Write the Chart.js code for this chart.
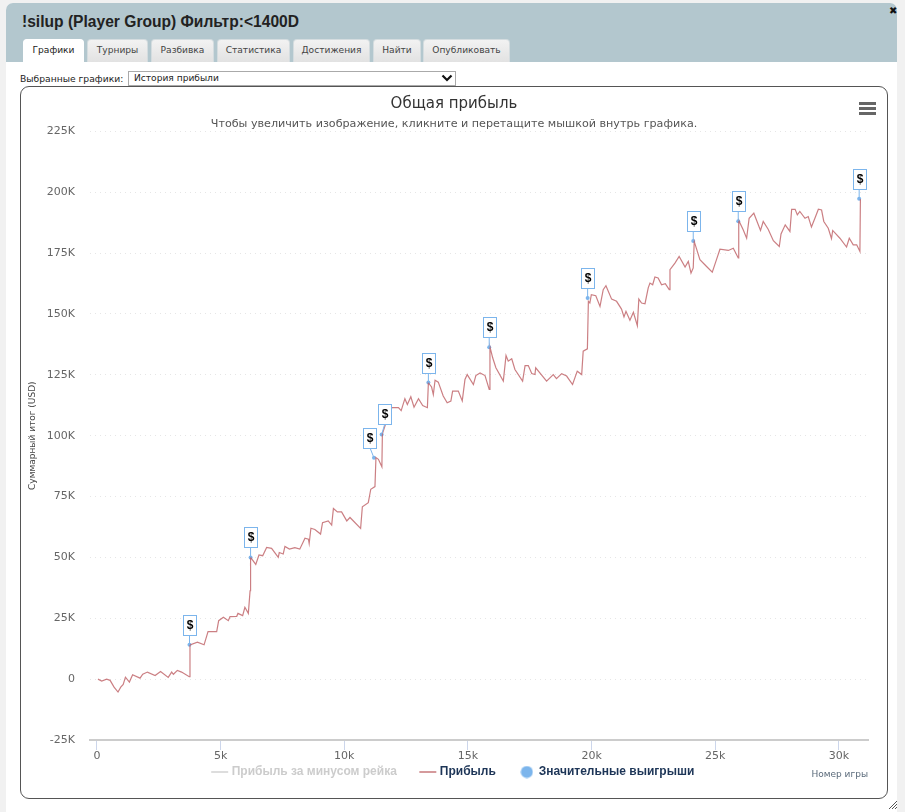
<!DOCTYPE html>
<html><head><meta charset="utf-8">
<script src="https://cdn.jsdelivr.net/npm/chart.js@4"></script>
<style>
html,body{margin:0;padding:0;width:905px;height:812px;overflow:hidden;background:#f1f1f1;font-family:"DejaVu Sans",sans-serif}
#win{position:absolute;left:6px;top:3px;width:891px;height:809px;background:#fff;border-radius:7px 7px 0 0}
#head{position:absolute;left:0;top:0;width:891px;height:59px;background:#b3c7ce;border-radius:7px 7px 0 0}
#ttl{position:absolute;left:22px;top:13px;font:bold 15.6px "Liberation Sans",sans-serif;color:#222}
.tab{position:absolute;top:39px;height:23px;box-sizing:border-box;text-align:center;font-size:9.1px;line-height:21px;color:#444;background:linear-gradient(#f2f2f2,#e2e2e2);border:1px solid #d4dcdf;border-bottom:none;border-radius:4px 4px 0 0}
.tab.on{background:#fff;color:#222;border-color:#fff}
#lab{position:absolute;left:20px;top:73px;font-size:9.2px;color:#222}
#sel{position:absolute;left:128px;top:71px;width:328px;height:15px;box-sizing:border-box;border:1px solid #aaa;background:#fff;font-size:9.1px;line-height:13px;padding-left:5px;color:#222}
#arr{position:absolute;left:441px;top:74px}
#box{position:absolute;left:20px;top:86px;width:868px;height:713px;box-sizing:border-box;border:1px solid #555;border-radius:9px;background:#fff}
canvas{position:absolute;left:21px;top:87px}
.bar{position:absolute;left:859px;width:17px;height:3px;background:#666}
#x{position:absolute;left:889px;top:5px;font-size:10px;font-weight:bold;color:#111}
</style></head><body>
<div id="win"></div><div style="position:absolute;left:6px;top:3px"><div id="head"></div></div>
<div id="ttl">!silup (Player Group) Фильтр:&lt;1400D</div>
<div id="x">✖</div>
<div class="tab on" style="left:23px;width:61px">Графики</div>
<div class="tab" style="left:87px;width:61px">Турниры</div>
<div class="tab" style="left:151px;width:63px">Разбивка</div>
<div class="tab" style="left:217px;width:73px">Статистика</div>
<div class="tab" style="left:293px;width:77px">Достижения</div>
<div class="tab" style="left:373px;width:48px">Найти</div>
<div class="tab" style="left:423px;width:87px">Опубликовать</div>
<div id="lab">Выбранные графики:</div>
<div id="sel">История прибыли</div>
<svg id="arr" width="12" height="8"><path d="M1.5 1.5L6 6L10.5 1.5" fill="none" stroke="#111" stroke-width="2.2"/></svg>
<div id="box"></div>
<canvas id="c" width="866" height="711"></canvas>
<div class="bar" style="top:102px"></div><div class="bar" style="top:107px"></div><div class="bar" style="top:112px"></div>
<svg style="position:absolute;left:888px;top:800px" width="10" height="10"><path d="M1 9L9 1M4 9L9 4M7 9L9 7" stroke="#555" fill="none"/></svg>
<script>
const gameNumbers = [40,190,390,530,690,850,960,1060,1150,1310,1440,1740,1850,2040,2350,2570,2880,3020,3090,3250,3420,3730,3760,4060,4330,4490,4840,4920,5110,5310,5380,5650,5700,5890,5980,6120,6190,6210,6420,6550,6700,6860,7060,7330,7370,7530,7600,7780,8000,8200,8410,8550,8580,8650,8810,9040,9120,9350,9490,9560,9720,9890,10100,10230,10660,10730,10970,11070,11240,11280,11380,11520,11540,11650,11920,12190,12300,12450,12550,12690,12820,13000,13170,13360,13400,13530,13600,13670,13800,14000,14160,14310,14380,14610,14770,14880,14970,15220,15320,15490,15690,15860,15890,16000,16130,16430,16540,16630,16770,16900,17210,17310,17440,17580,17710,17740,18180,18450,18580,18790,18990,19230,19420,19600,19660,19830,19870,19930,19990,20170,20340,20470,20580,20810,21010,21210,21310,21390,21550,21690,21850,21910,22020,22160,22290,22360,22470,22560,22690,22830,22980,23140,23170,23370,23540,23780,23910,24020,24110,24150,24380,24650,24880,25050,25190,25530,25730,25930,25950,26130,26270,26370,26560,26830,26940,27140,27350,27590,27660,27830,28020,28090,28230,28320,28420,28630,28760,28890,29030,29170,29300,29390,29570,29700,29750,30040,30310,30420,30580,30720,30850,30870];
const profitUsd = [0,-800,0,-500,-3300,-5300,-3300,-2200,800,-1200,1800,400,2000,2900,1500,3100,700,2900,2000,3600,2900,1000,14100,15200,14100,19500,19500,24000,25400,24000,25700,25800,27000,26100,29500,27000,36300,50000,47100,51000,50700,54100,53700,50000,52000,51400,54500,53400,54000,53400,57900,57500,55700,62000,61500,59600,64300,65000,63300,70100,68700,68700,65000,66400,61900,70800,72500,78000,79100,91000,90300,87200,100800,104200,111500,111500,110300,115200,112800,116000,111700,115200,112400,111500,121700,120000,116900,122800,122000,116300,113500,114200,118300,118300,114300,123100,125100,121000,124700,125800,124700,119000,136500,132000,127900,122400,132900,130600,131600,127200,122400,128800,128800,125500,125100,127900,122400,125100,123400,125500,124500,121000,126500,125100,134700,135700,155200,154500,157900,157500,153100,160000,161600,156100,155200,152000,148800,151100,147400,150700,145200,156100,154500,154200,160700,162700,162000,165200,164800,162000,162400,160000,168200,170900,173600,169300,171600,166800,168900,179800,172300,169500,167200,172300,176600,176100,177000,173000,188400,184600,181100,189300,191400,184300,188000,184800,180100,177700,182900,186600,183900,193000,193000,190700,192100,189300,190000,185700,189300,193000,192700,188000,185200,181000,184300,181100,177500,181100,178400,178400,175700,197100];
const bigWinGames = [3740,6210,11200,11510,13400,15860,19840,24110,25930,30820];
const bigWinUsd = [14100,50000,90900,100500,121800,136300,156600,180000,188100,197300];
const flagLabels = ["$","$","$","$","$","$","$","$","$","$"];
const seriesNames = ["Прибыль за минусом рейка","Прибыль","Значительные выигрыши"];
const titleText = "Общая прибыль";
const subtitleText = "Чтобы увеличить изображение, кликните и перетащите мышкой внутрь графика.";
const yTitle = "Суммарный итог (USD)";
const xTitle = "Номер игры";

const dot = document.createElement('canvas'); dot.width = 13; dot.height = 13;
const dc = dot.getContext('2d'); dc.fillStyle = '#7cb5ec'; dc.beginPath(); dc.arc(6.5,6.5,6,0,Math.PI*2); dc.fill();

const flags = {
  id:'flags',
  afterDatasetsDraw(chart){
    const {ctx,scales:{x,y}} = chart;
    bigWinGames.forEach((g,i)=>{
      const px = x.getPixelForValue(g), py = y.getPixelForValue(bigWinUsd[i]);
      let cx = px;
      if (i+1<bigWinGames.length && bigWinGames[i+1]-g<500) cx = px-4;
      if (i>0 && g-bigWinGames[i-1]<500) cx = px+3;
      const w=13,h=20,gap=10;
      ctx.save();
      ctx.strokeStyle='#7cb5ec'; ctx.lineWidth=1;
      ctx.beginPath(); ctx.moveTo(px,py); ctx.lineTo(cx,py-gap); ctx.stroke();
      ctx.fillStyle='#fff';
      const l=Math.round(cx-w/2)+.5, t=Math.round(py-gap-h)+.5;
      ctx.fillRect(l,t,w,h); ctx.strokeRect(l,t,w,h);
      ctx.fillStyle='#000'; ctx.font='bold 12px "Liberation Sans"'; ctx.textAlign='center'; ctx.textBaseline='middle';
      ctx.fillText(flagLabels[i],l+w/2,t+h/2+.5);
      ctx.restore();
    });
  }
};
const legendMove = { id:'legendMove', afterLayout(chart){ const l=chart.legend; const d=l.top-654; l.top-=d; l.bottom-=d; if(l.adjustHitBoxes) l.adjustHitBoxes(); } };

new Chart(document.getElementById('c'),{
  type:'line',
  data:{datasets:[
    {label:seriesNames[0],data:[],hidden:true,borderColor:'#ddd'},
    {label:seriesNames[1],data:gameNumbers.map((g,i)=>({x:g,y:profitUsd[i]})),borderColor:'rgba(190,95,100,.8)',borderWidth:1.2,pointRadius:0,tension:0},
    {label:seriesNames[2],data:bigWinGames.map((g,i)=>({x:g,y:bigWinUsd[i]})),showLine:false,pointRadius:2,pointBackgroundColor:'#7cb5ec',pointBorderWidth:0}
  ]},
  plugins:[flags,legendMove],
  options:{
    responsive:false,animation:false,devicePixelRatio:1,
    layout:{padding:{left:19,right:19,top:8,bottom:-29}},
    plugins:{
      tooltip:{enabled:false},
      title:{display:true,text:titleText,color:'#333',font:{family:'"DejaVu Sans"',size:15,weight:'normal'},padding:{top:0,bottom:4}},
      subtitle:{display:true,text:subtitleText,color:'#555',font:{family:'"DejaVu Sans"',size:11.15,weight:'normal'},padding:{top:0,bottom:1}},
      legend:{position:'bottom',labels:{usePointStyle:true,padding:25,font:{family:'"Liberation Sans"',size:12,weight:'bold'},
        generateLabels(){return [
          {text:seriesNames[0],fontColor:'#cccccc',strokeStyle:'#dddddd',fillStyle:'#dddddd',lineWidth:2,pointStyle:'line',hidden:false,datasetIndex:0},
          {text:seriesNames[1],fontColor:'#1d3557',strokeStyle:'#d59a9c',fillStyle:'#d59a9c',lineWidth:2,pointStyle:'line',hidden:false,datasetIndex:1},
          {text:seriesNames[2],fontColor:'#1d3557',strokeStyle:'#7cb5ec',fillStyle:'#7cb5ec',lineWidth:0,pointStyle:dot,hidden:false,datasetIndex:2}
        ];}}}
    },
    scales:{
      x:{type:'linear',min:-283,max:31177,
        ticks:{maxTicksLimit:11,includeBounds:false,maxRotation:0,autoSkip:false,color:'#666',padding:0,font:{family:'"DejaVu Sans"',size:11},callback:v=>v===0?'0':(v/1000)+'k'},
        grid:{drawOnChartArea:false,drawTicks:true,tickColor:'#ccd6eb',tickLength:10},
        border:{color:'#ccc',width:2},
        title:{display:true,text:xTitle,align:'end',color:'#5a6a7a',font:{family:'"DejaVu Sans"',size:9},padding:{top:6,bottom:0}}},
      y:{min:-25000,max:225000,
        afterFit(s){s.width=50;},
        ticks:{stepSize:25000,color:'#666',padding:15,font:{family:'"DejaVu Sans"',size:11},callback:v=>v===0?'0':(v/1000)+'K'},
        grid:{color:'#e6e6e6',drawTicks:false,lineWidth:1},
        border:{display:false,dash:[1,4]},
        title:{display:true,text:yTitle,color:'#444',font:{family:'"DejaVu Sans"',size:9},padding:{top:-13,bottom:0}}}
    }
  }
});
</script>
</body></html>
